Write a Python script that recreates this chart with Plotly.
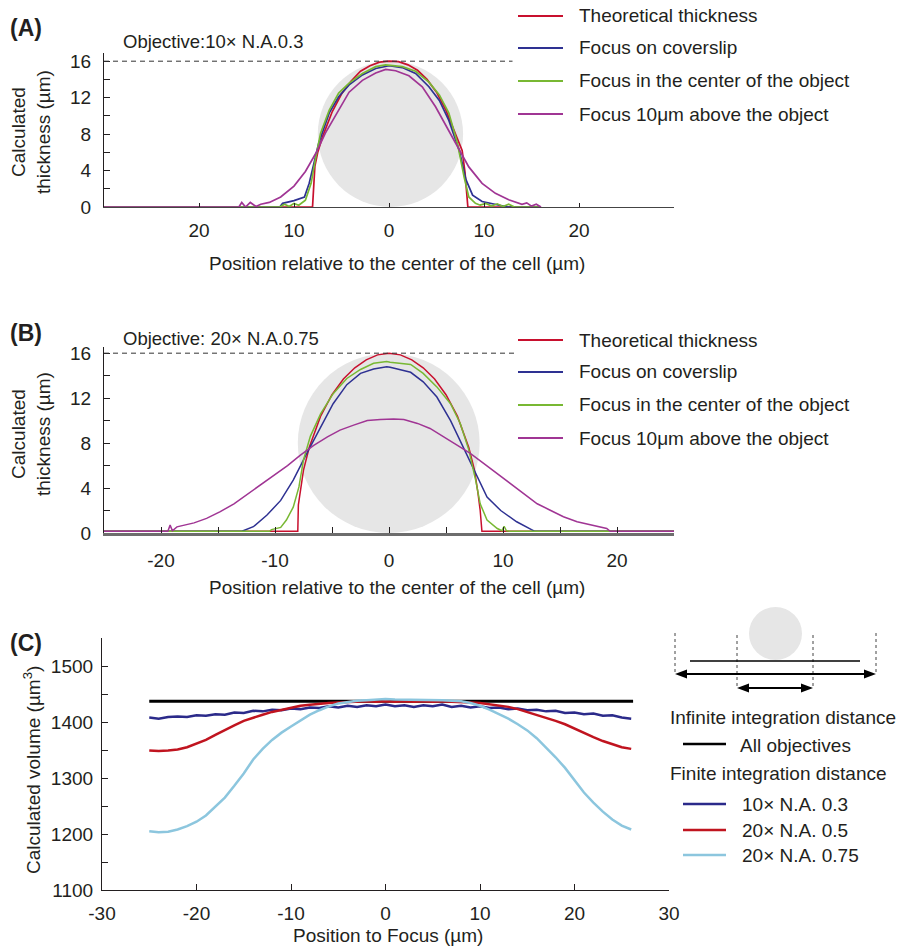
import plotly.graph_objects as go

W, H = 898, 947


def fx(p):
    return p / W


def fy(p):
    return 1 - p / H


# ---------------- DATA ----------------
# Panel A (10x N.A. 0.3)
a_theo_x = [-30, -8.05, -7.8, -7.5, -7, -6, -5, -4, -3, -2, -1, 0, 1, 2, 3, 4, 5, 6, 7, 7.7, 8.0, 8.3, 16]
a_theo_y = [0, 0, 4.5, 6.0, 7.7, 10.4, 12.4, 13.8, 14.9, 15.5, 15.9, 16.0, 15.95, 15.6, 15.0, 14.0, 12.6, 10.6, 8.0, 6.2, 3.8, 0, 0]

a_cov_x = [-30, -11.5, -11.2, -10, -8.9, -8.4, -7.9, -7.4, -6.3, -5.3, -4.2, -2.8, -1.4, 0, 1.4, 2.8, 4.2, 5.3,
           6.3, 7.4, 8.1, 8.8, 9.8, 11.2, 12.5, 16]
a_cov_y = [0, 0, 0.4, 0.7, 1.1, 2.6, 4.8, 7.0, 10.3, 12.1, 13.4, 14.5, 15.2, 15.5, 15.3, 14.65, 13.2, 11.7,
           9.5, 6.2, 3.0, 1.3, 0.6, 0.3, 0, 0]

a_cen_x = [-30, -11.5, -11, -10.5, -10, -9.5, -8.8, -8.2, -7.7, -7.2, -6.3, -5.3, -4.2, -2.8, -1.4, -0.35, 1.4,
           2.8, 4.2, 5.3, 6.3, 7.2, 7.9, 8.4, 9.1, 9.6, 10.2, 10.8, 11.4, 12, 12.6, 13.2, 16]
a_cen_y = [0, 0, 0.3, 0.05, 0.4, 0.2, 0.75, 2.6, 5.5, 8.1, 10.6, 12.5, 13.6, 14.65, 15.4, 15.6, 15.4,
           14.9, 13.7, 12.3, 10.3, 7.0, 3.3, 1.1, 0.4, 0.2, 0.4, 0.1, 0.35, 0.05, 0.3, 0, 0]

a_abv_x = [-30, -15.8, -15.5, -15.1, -14.6, -14.0, -13.5, -12.6, -11.4, -10.5, -10, -8.8, -7.7, -6.7, -5.6,
           -4.2, -2.8, -1.4, -0.35, 0.7, 2.1, 3.5, 4.9, 6.3, 7.4, 8.4, 9.8, 11.2, 12.6, 14, 14.5, 15, 15.5, 16]
a_abv_y = [0, 0, 0.5, 0, 0.5, 0.05, 0.3, 0.5, 1.1, 1.9, 2.3, 3.9, 5.9, 8.1, 10.1,
           12.6, 13.9, 14.7, 15.1, 14.95, 14.4, 13.2, 11.0, 8.4, 6.2, 4.4, 2.6, 1.5, 0.8, 0.3, 0.45, 0.1, 0.3, 0]

# Panel B (20x N.A. 0.75)
b_theo_x = [-25, -8.0, -7.95, -7.8, -7.5, -7, -6, -5, -4, -3, -2, -1, 0, 1, 2, 3, 4, 5, 6, 7, 7.5, 7.8, 8.0,
            8.15, 25]
b_theo_y = [0.15, 0.15, 2.5, 3.6, 5.6, 7.6, 10.4, 12.3, 13.7, 14.7, 15.4, 15.85, 16.0, 15.85, 15.4, 14.7, 13.7,
            12.3, 10.4, 7.6, 5.6, 3.6, 2.0, 0.15, 0.15]

b_cov_x = [-25, -12.9, -11.9, -10.7, -9.5, -8.4, -7.2, -6.0, -4.9, -3.7, -2.5, -1.35, -0.2, 0.1, 1.9, 3.0, 4.2,
           5.4, 6.5, 7.6, 8.6, 9.8, 11.2, 12.5, 12.8, 25]
b_cov_y = [0.15, 0.15, 0.56, 1.6, 2.9, 4.7, 7.1, 9.45, 11.5, 13.2, 14.2, 14.6, 14.8, 14.75, 14.3, 13.45, 12.1,
           10.0, 7.7, 5.3, 3.2, 2.0, 1.0, 0.3, 0.15, 0.15]

b_cen_x = [-25, -10.5, -10.3, -9.5, -9.0, -8.4, -7.9, -7.5, -6.9, -6.0, -4.9, -3.7, -2.5, -1.35, -0.2, 0.1, 1.9,
           3.0, 4.2, 5.4, 6.25, 7.0, 7.6, 8.0, 8.6, 9.5, 9.9, 10.1, 10.3, 10.6, 25]
b_cen_y = [0.15, 0.15, 0.3, 0.5, 1.15, 2.3, 4.1, 6.5, 8.6, 10.6, 12.4, 13.75, 14.55, 15.1, 15.25, 15.2, 15.0,
           14.2, 13.0, 11.5, 9.75, 7.4, 4.7, 2.6, 1.15, 0.4, 0.2, 0.6, 0.2, 0.15, 0.15]

b_abv_x = [-25, -19.4, -19.2, -19.0, -18.6, -17.1, -16, -14.8, -13.6, -12.5, -11.3, -10.1, -8.9, -7.8, -6.6,
           -5.4, -4.3, -3.1, -1.9, -0.76, 0.4, 1.3, 2.5, 3.6, 4.8, 6.0, 7.1, 8.3, 9.5, 10.6, 11.8, 13.0, 14.1,
           15.3, 16.5, 17.7, 19.1, 19.4, 25]
b_abv_y = [0.15, 0.15, 0.7, 0.2, 0.55, 0.9, 1.3, 1.9, 2.6, 3.4, 4.3, 5.15, 6.0, 6.9, 7.8,
           8.55, 9.15, 9.6, 10.0, 10.1, 10.15, 10.1, 9.75, 9.3, 8.55, 7.8, 7.1, 6.2, 5.3, 4.4, 3.5, 2.6, 2.05,
           1.45, 1.0, 0.7, 0.4, 0.15, 0.15]

# Panel C (calculated volume vs focus position)
c_x = list(range(-25, 27))
c_na03 = [1408, 1406, 1409, 1410, 1409, 1412, 1411, 1414, 1413, 1417, 1416, 1420, 1419, 1422, 1421, 1424,
          1423, 1426, 1425, 1428, 1426, 1429, 1427, 1430, 1428, 1431, 1428, 1430, 1427, 1430, 1428, 1431,
          1427, 1429, 1426, 1428, 1425, 1426, 1423, 1424, 1421, 1422, 1419, 1420, 1416, 1417, 1414, 1415,
          1411, 1412, 1408, 1406]
c_na05 = [1349, 1348, 1349, 1351, 1355, 1361, 1368, 1377, 1386, 1394, 1402, 1408, 1413, 1418, 1422, 1426,
          1429, 1431, 1433, 1434, 1435, 1436, 1436, 1437, 1436, 1437, 1436, 1437, 1436, 1437, 1436, 1437,
          1436, 1436, 1435, 1434, 1432, 1430, 1427, 1423, 1418, 1413, 1407, 1402, 1396, 1388, 1381, 1373,
          1366, 1360, 1355, 1352]
c_na075 = [1205, 1203, 1204, 1208, 1214, 1222, 1233, 1249, 1265, 1286, 1308, 1333, 1352, 1368, 1381, 1392,
           1403, 1413, 1421, 1428, 1433, 1436, 1438, 1439, 1440, 1441, 1440, 1440, 1440, 1440, 1440, 1439,
           1438, 1437, 1434, 1429, 1422, 1414, 1406, 1396, 1385, 1371, 1354, 1337, 1318, 1297, 1274, 1256,
           1240, 1226, 1215, 1208]
c_inf_x = [-25, 26.2]
c_inf_y = [1437, 1437]

cell_diam = 16
a_cell_x = [-7.5, 7.8]
b_cell_x = [-8.0, 7.95]

a_xticks = [-20, -10, 0, 10, 20]
a_xlabels = ["20", "10", "0", "10", "20"]
ab_yticks = [0, 4, 8, 12, 16]
b_xticks = [-20, -10, 0, 10, 20]
c_xticks = [-30, -20, -10, 0, 10, 20, 30]
c_yticks = [1100, 1200, 1300, 1400, 1500]

legend_ab = ["Theoretical thickness", "Focus on coverslip", "Focus in the center of the object",
             "Focus 10μm above the object"]
legend_c = ["10× N.A. 0.3", "20× N.A. 0.5", "20× N.A. 0.75"]

# ---------------- STYLE ----------------
FONT = "Liberation Sans, Arial, sans-serif"
TXT = "#231f20"
RED = "#c8102e"
BLUE = "#2e3192"
GREEN = "#78b833"
MAG = "#a03594"
C_BLUE = "#2b2a8a"
C_RED = "#c0141f"
C_LB = "#8cc6de"
GRAY = "#e6e6e6"

fig = go.Figure()

colors_ab = [RED, BLUE, GREEN, MAG]
a_series = [(a_theo_x, a_theo_y), (a_cov_x, a_cov_y), (a_cen_x, a_cen_y), (a_abv_x, a_abv_y)]
b_series = [(b_theo_x, b_theo_y), (b_cov_x, b_cov_y), (b_cen_x, b_cen_y), (b_abv_x, b_abv_y)]
for (xs, ys), col in zip(a_series, colors_ab):
    fig.add_trace(go.Scatter(x=xs, y=ys, mode="lines", line=dict(color=col, width=1.7),
                             xaxis="x", yaxis="y", showlegend=False, hoverinfo="skip"))
for (xs, ys), col in zip(b_series, colors_ab):
    fig.add_trace(go.Scatter(x=xs, y=ys, mode="lines", line=dict(color=col, width=1.5),
                             xaxis="x2", yaxis="y2", showlegend=False, hoverinfo="skip"))

fig.add_trace(go.Scatter(x=c_inf_x, y=c_inf_y, mode="lines", line=dict(color="black", width=3),
                         xaxis="x3", yaxis="y3", showlegend=False, hoverinfo="skip"))
for ys, col in [(c_na03, C_BLUE), (c_na05, C_RED), (c_na075, C_LB)]:
    fig.add_trace(go.Scatter(x=c_x, y=ys, mode="lines", line=dict(color=col, width=2.5),
                             xaxis="x3", yaxis="y3", showlegend=False, hoverinfo="skip"))

axis_common = dict(showline=True, linecolor=TXT, linewidth=1.2, ticks="inside", ticklen=6,
                   tickcolor=TXT, tickwidth=1, showgrid=False, zeroline=False, automargin=False,
                   tickfont=dict(family=FONT, size=19, color=TXT), fixedrange=True)


def minor(step, start):
    return dict(tickmode="linear", tick0=start, dtick=step, ticks="inside", ticklen=6,
                tickcolor=TXT, tickwidth=1, showgrid=False)


fig.update_layout(
    template="none",
    width=W, height=H, margin=dict(l=0, r=0, t=0, b=0, pad=0, autoexpand=False),
    paper_bgcolor="white", plot_bgcolor="white",
    font=dict(family=FONT, size=19, color=TXT),
    xaxis=dict(domain=[fx(104), fx(674)], anchor="y", range=[-30, 30],
               tickvals=a_xticks, ticktext=a_xlabels,
               ticklabelstandoff=6, **{**axis_common, "linecolor": "#444", "ticklen": 4}),
    yaxis=dict(domain=[fy(207), fy(53)], anchor="x", range=[0, 16.9],
               tickvals=ab_yticks, ticktext=[str(v) for v in ab_yticks], minor=minor(2, 0),
               ticklabelstandoff=8, **axis_common),
    xaxis2=dict(domain=[fx(104), fx(674)], anchor="y2", range=[-25, 25],
                tickvals=b_xticks, ticktext=[str(v) for v in b_xticks], minor=minor(5, 0),
                ticklabelstandoff=8, **{**axis_common, "linecolor": "#6d6d6d", "linewidth": 2.5}),
    yaxis2=dict(domain=[fy(533), fy(347)], anchor="x2", range=[0, 16.55],
                tickvals=ab_yticks, ticktext=[str(v) for v in ab_yticks], minor=minor(2, 0),
                ticklabelstandoff=8, **axis_common),
    xaxis3=dict(domain=[fx(102), fx(669)], anchor="y3", range=[-30, 30],
                tickvals=c_xticks, ticktext=[str(v) for v in c_xticks], ticklabelstandoff=6, **axis_common),
    yaxis3=dict(domain=[fy(890), fy(638)], anchor="x3", range=[1100, 1550],
                tickvals=c_yticks, ticktext=[str(v) for v in c_yticks], minor=minor(50, 1100),
                ticklabelstandoff=4, **axis_common),
)

shapes = []
# cell circles
shapes.append(dict(type="circle", xref="x", yref="y", x0=a_cell_x[0], x1=a_cell_x[1], y0=0, y1=cell_diam,
                   fillcolor=GRAY, line=dict(width=0), layer="below"))
shapes.append(dict(type="circle", xref="x2", yref="y2", x0=b_cell_x[0], x1=b_cell_x[1], y0=0, y1=cell_diam,
                   fillcolor=GRAY, line=dict(width=0), layer="below"))
# dashed reference lines at 16 um
shapes.append(dict(type="line", xref="x", yref="y", x0=-30, x1=13, y0=cell_diam, y1=cell_diam,
                   line=dict(color="#333", width=1, dash="5px,4px")))
shapes.append(dict(type="line", xref="x2", yref="y2", x0=-25, x1=11, y0=cell_diam, y1=cell_diam,
                   line=dict(color="#333", width=1, dash="5px,4px")))

annotations = []


def txt(x, y, s, size=19, anchor="left", bold=False, angle=0):
    annotations.append(dict(x=fx(x), y=fy(y), xref="paper", yref="paper", text=("<b>%s</b>" % s) if bold else s,
                            showarrow=False, xanchor=anchor, yanchor="middle", textangle=angle,
                            font=dict(family=FONT, size=size, color=TXT)))


def legline(x0, x1, y, col, width=2):
    shapes.append(dict(type="line", xref="paper", yref="paper", x0=fx(x0), x1=fx(x1), y0=fy(y), y1=fy(y),
                       line=dict(color=col, width=width)))


# legends A & B
for rows in ([16, 48, 81, 114], [340, 372, 405, 438]):
    for lab, col, yy in zip(legend_ab, colors_ab, rows):
        legline(518, 563, yy, col, 2)
        txt(577, yy, lab)

# panel labels, subtitles
txt(8, 28, "(A)", size=23, bold=True)
txt(8, 333, "(B)", size=23, bold=True)
txt(8, 643, "(C)", size=23, bold=True)
txt(121, 42, "Objective:10× N.A.0.3", size=18.5)
txt(121, 338, "Objective: 20× N.A.0.75", size=18.5)

# axis titles
txt(397, 263, "Position relative to the center of the cell (µm)", anchor="center")
txt(397, 587, "Position relative to the center of the cell (µm)", anchor="center")
txt(388, 935, "Position to Focus (µm)", anchor="center")
txt(31, 132, "Calculated<br>thickness (µm)", anchor="center", angle=-90)
txt(31, 434, "Calculated<br>thickness (µm)", anchor="center", angle=-90)
txt(32, 770, "Calculated volume (µm<sup>3</sup>)", anchor="center", angle=-90)

# panel C schematic
shapes.append(dict(type="circle", xref="paper", yref="paper", x0=fx(749), x1=fx(802), y0=fy(660), y1=fy(607),
                   fillcolor=GRAY, line=dict(width=0)))
for xv, y0, y1 in [(675, 633, 674), (876, 633, 674), (737, 635, 688), (813, 635, 688)]:
    shapes.append(dict(type="line", xref="paper", yref="paper", x0=fx(xv), x1=fx(xv), y0=fy(y0), y1=fy(y1),
                       line=dict(color="#444", width=1, dash="dot")))
legline(690, 860, 661, "black", 1.3)


def dbl_arrow(xa, xb, y, head=12, half=4.5):
    legline(xa + head - 2, xb - head + 2, y, "black", 2)
    for tip, base in [(xa, xa + head), (xb, xb - head)]:
        path = "M %f %f L %f %f L %f %f Z" % (fx(tip), fy(y), fx(base), fy(y - half), fx(base), fy(y + half))
        shapes.append(dict(type="path", xref="paper", yref="paper", path=path, fillcolor="black",
                           line=dict(width=0)))


dbl_arrow(675, 876, 674)
dbl_arrow(737, 813, 688)

# panel C legend
txt(668, 717, "Infinite integration distance")
legline(683, 726, 744, "black", 2.5)
txt(738, 745, "All objectives")
txt(668, 773, "Finite integration distance")
for lab, col, yy in zip(legend_c, [C_BLUE, C_RED, C_LB], [804, 830, 855]):
    legline(683, 726, yy, col, 2.5)
    txt(740, yy, lab)

fig.update_layout(shapes=shapes, annotations=annotations)
fig.write_html("out.html")
